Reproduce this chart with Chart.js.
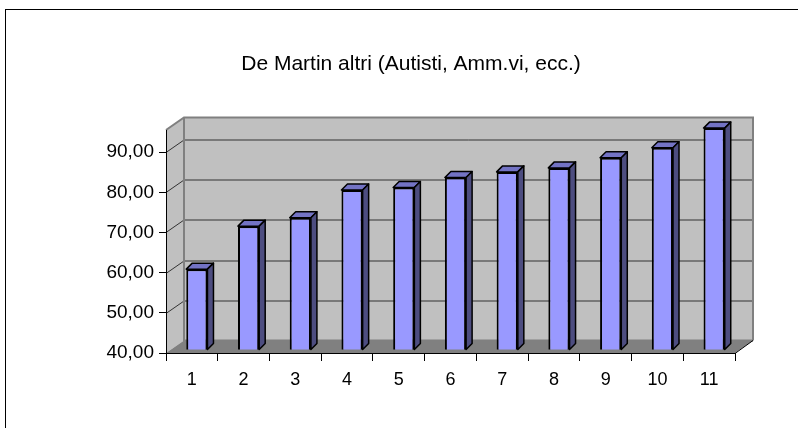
<!DOCTYPE html>
<html>
<head>
<meta charset="utf-8">
<script src="https://cdn.jsdelivr.net/npm/chart.js@4/dist/chart.umd.min.js"></script>
<style>
  html, body { margin: 0; padding: 0; background: #fff; }
  #wrap { position: relative; width: 798px; height: 428px; }
</style>
</head>
<body>
<div id="wrap"><canvas id="chart" width="798" height="428"></canvas></div>
<script>
// data
const categories = ['1', '2', '3', '4', '5', '6', '7', '8', '9', '10', '11']
const values = [60.0, 70.7, 72.8, 79.7, 80.3, 82.8, 84.2, 85.2, 87.7, 90.2, 95.1]
const yTicks = [40, 50, 60, 70, 80, 90]
const titleText = 'De Martin altri (Autisti, Amm.vi, ecc.)'

const FONT = "'Liberation Sans', Arial, sans-serif"
// depth of the 3D box (wall offset) and of each bar
const WALL_DX = 18, WALL_DY = 12.5
const BAR_DX = 6, BAR_DY = 6
// bars stand a bit behind the front plane
const BAR_SHIFT_X = 5, BAR_SHIFT_Y = -3.5

const box3d = {
  id: 'box3d',
  beforeDraw(chart) {
    const ctx = chart.ctx
    const {left, right, top, bottom} = chart.chartArea
    const y = chart.scales.y
    ctx.save()
    ctx.fillStyle = '#fff'
    ctx.fillRect(0, 0, chart.width, chart.height)
    // outer chart border
    ctx.strokeStyle = '#000'
    ctx.lineWidth = 1
    ctx.strokeRect(5.5, 9.5, 900, 600)

    // title, centred over the plot box
    ctx.fillStyle = '#000'
    ctx.font = '21px ' + FONT
    ctx.textAlign = 'center'
    ctx.textBaseline = 'alphabetic'
    ctx.fillText(titleText, 411, 70)

    // back wall
    ctx.fillStyle = '#c0c0c0'
    ctx.fillRect(left + WALL_DX, top - WALL_DY, right - left, bottom - top)
    // side wall
    ctx.beginPath()
    ctx.moveTo(left, bottom)
    ctx.lineTo(left, top)
    ctx.lineTo(left + WALL_DX, top - WALL_DY)
    ctx.lineTo(left + WALL_DX, bottom - WALL_DY)
    ctx.closePath()
    ctx.fill()
    // floor
    ctx.fillStyle = '#808080'
    ctx.beginPath()
    ctx.moveTo(left, bottom)
    ctx.lineTo(right, bottom)
    ctx.lineTo(right + WALL_DX, bottom - WALL_DY)
    ctx.lineTo(left + WALL_DX, bottom - WALL_DY)
    ctx.closePath()
    ctx.fill()

    // grid lines on back wall and side wall
    ctx.strokeStyle = '#333'
    ctx.lineWidth = 1
    yTicks.slice(1).forEach(v => {
      const py = Math.round(y.getPixelForValue(v)) + 0.5
      ctx.beginPath()
      ctx.moveTo(left, py)
      ctx.lineTo(left + WALL_DX, py - WALL_DY)
      ctx.lineTo(right + WALL_DX, py - WALL_DY)
      ctx.stroke()
    })

    // wall edges
    ctx.strokeStyle = '#808080'
    ctx.lineWidth = 2
    ctx.beginPath()
    ctx.moveTo(left, top)
    ctx.lineTo(left + WALL_DX, top - WALL_DY)
    ctx.lineTo(right + WALL_DX, top - WALL_DY)
    ctx.lineTo(right + WALL_DX, bottom - WALL_DY)
    ctx.moveTo(left + WALL_DX, top - WALL_DY)
    ctx.lineTo(left + WALL_DX, bottom - WALL_DY)
    ctx.lineTo(right + WALL_DX, bottom - WALL_DY)
    ctx.stroke()
    ctx.restore()
  },
  beforeDatasetsDraw(chart) {
    chart.ctx.save()
    chart.ctx.translate(BAR_SHIFT_X, BAR_SHIFT_Y)
  },
  afterDatasetsDraw(chart) {
    const ctx = chart.ctx
    const floor = chart.chartArea.bottom
    ctx.strokeStyle = '#000'
    ctx.lineWidth = 1.5
    ctx.lineJoin = 'round'
    chart.getDatasetMeta(0).data.forEach(bar => {
      const l = bar.x - bar.width / 2, r = bar.x + bar.width / 2
      const t = bar.y, b = Math.min(bar.base, floor)
      // top face
      ctx.fillStyle = '#7373c4'
      ctx.beginPath()
      ctx.moveTo(l, t)
      ctx.lineTo(l + BAR_DX, t - BAR_DY)
      ctx.lineTo(r + BAR_DX, t - BAR_DY)
      ctx.lineTo(r, t)
      ctx.closePath()
      ctx.fill()
      ctx.stroke()
      // side face
      ctx.fillStyle = '#4d4d80'
      ctx.beginPath()
      ctx.moveTo(r, t)
      ctx.lineTo(r + BAR_DX, t - BAR_DY)
      ctx.lineTo(r + BAR_DX, b - BAR_DY)
      ctx.lineTo(r, b)
      ctx.closePath()
      ctx.fill()
      ctx.stroke()
    })
    ctx.restore()
  },
  afterDraw(chart) {
    const ctx = chart.ctx
    const {right, bottom} = chart.chartArea
    ctx.save()
    ctx.strokeStyle = '#000'
    ctx.lineWidth = 1
    ctx.beginPath()
    ctx.moveTo(right, bottom + 0.5)
    ctx.lineTo(right + WALL_DX, bottom - WALL_DY)
    ctx.stroke()
    ctx.restore()
  }
}

new Chart(document.getElementById('chart'), {
  type: 'bar',
  data: {
    labels: categories,
    datasets: [{
      data: values,
      backgroundColor: '#9999ff',
      borderColor: '#000',
      borderWidth: 2,
      barPercentage: 0.41,
      categoryPercentage: 1
    }]
  },
  options: {
    responsive: false,
    animation: false,
    layout: { padding: { left: 0, right: 63, top: 130, bottom: 0 } },
    plugins: {
      legend: { display: false },
      tooltip: { enabled: false },
      title: { display: false }
    },
    scales: {
      x: {
        grid: { drawOnChartArea: false, color: '#000', tickLength: 8 },
        border: { color: '#000' },
        ticks: { color: '#000', padding: 8, font: { family: FONT, size: 18 } },
        afterFit(scale) { scale.height = 75 }
      },
      y: {
        min: 40,
        max: 95.5,
        grid: { drawOnChartArea: false, color: '#000', tickLength: 7 },
        border: { color: '#000' },
        ticks: {
          stepSize: 10,
          includeBounds: false,
          color: '#000',
          padding: 5,
          font: { family: FONT, size: 19 },
          callback: v => v.toFixed(2).replace('.', ',')
        },
        afterFit(scale) { scale.width = 166 }
      }
    }
  },
  plugins: [box3d]
})
</script>
</body>
</html>
